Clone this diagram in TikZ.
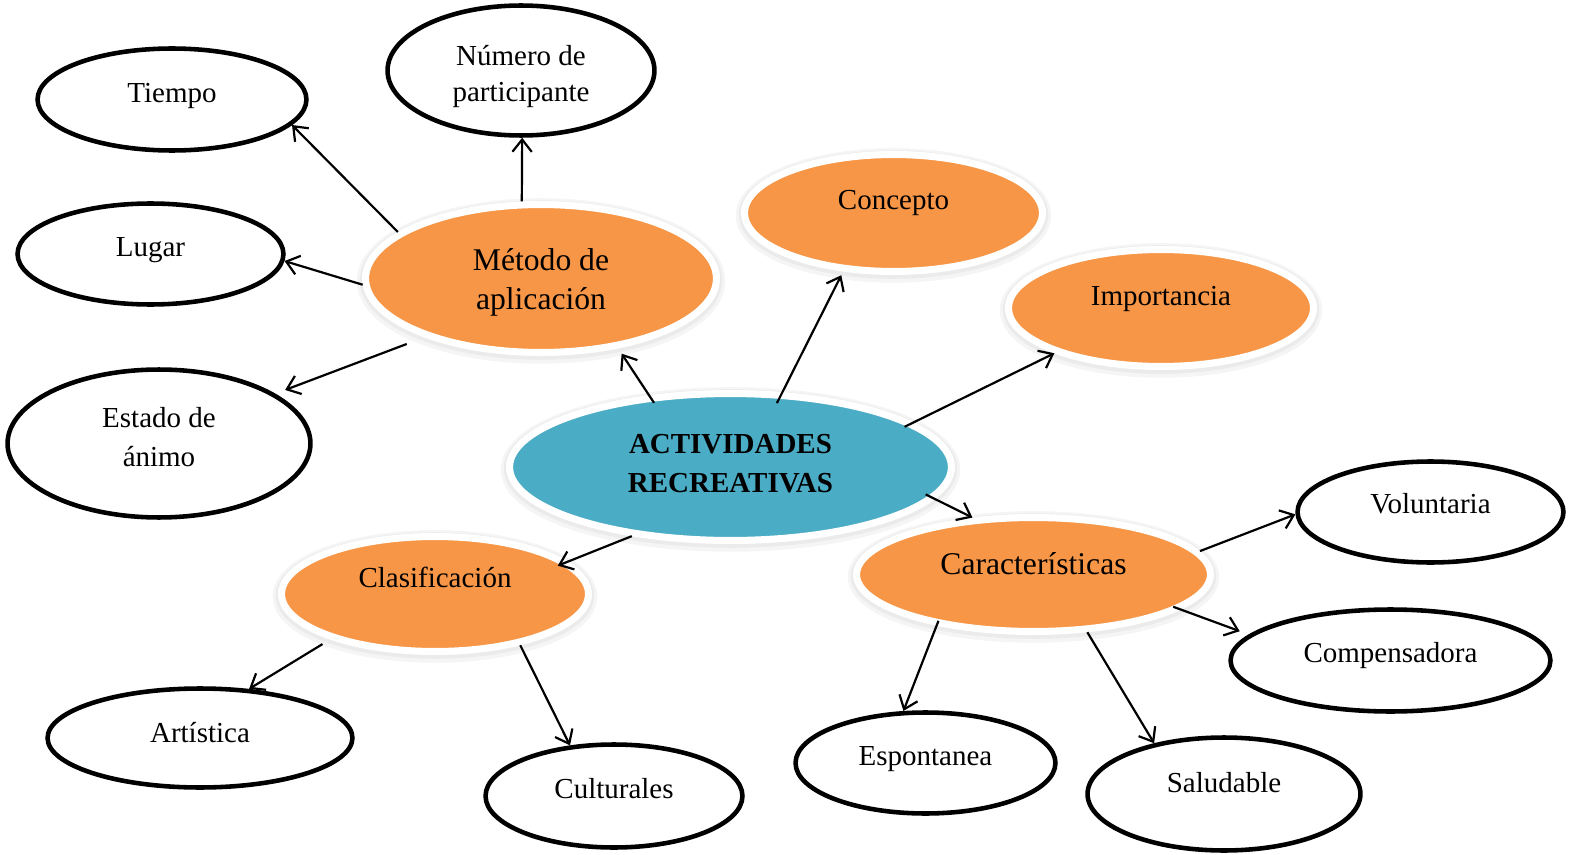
\documentclass[tikz,border=0pt]{standalone}
\usepackage{fontspec}
\setmainfont{Liberation Serif}
\usetikzlibrary{calc,shapes.geometric,arrows.meta}
\definecolor{naranja}{HTML}{F79646}
\definecolor{azul}{HTML}{4BACC6}

\begin{document}
\begin{tikzpicture}[x=0.02cm, y=-0.02cm,
  % white ellipse with a heavy black outline (radii of the outline path)
  wb/.style 2 args={ellipse, draw=black, line width=2.6pt, fill=white, inner sep=0pt,
    minimum width={#1*0.04cm}, minimum height={#2*0.04cm}},
  % filled ellipse with a white rim and a soft grey halo
  glow/.style 2 args={ellipse, draw=white, line width=4pt, inner sep=0pt,
    minimum width={#1*0.04cm}, minimum height={#2*0.04cm},
    preaction={draw=black!4, line width=10pt, transform canvas={yshift=-1.4pt}},
    preaction={draw=black!8, line width=6.5pt, transform canvas={yshift=-0.9pt}}},
  ob/.style 2 args={glow={#1}{#2}, fill=naranja},
  cb/.style 2 args={glow={#1}{#2}, fill=azul},
  % text styles
  lbl/.style={align=center, inner sep=0pt, font=\fontsize{16.5pt}{20pt}\selectfont},
  lone/.style={lbl, text height=11.5pt, text depth=3.3pt},
  tx/.style 2 args={label={[lone, yshift=#2*0.02cm]center:#1}},
  tm/.style 2 args={label={[lbl, yshift=#2*0.02cm]center:{#1}}},
  arr/.style={-{Straight Barb[length=7pt,width=11pt]}, line width=1.25pt}
]
\useasboundingbox (0,0) rectangle (1570,855);

% main concept and first-level topics
\node[ob={175.5}{74}, label={[lbl, font=\fontsize{18pt}{22.2pt}\selectfont, yshift=-3.7*0.02cm]center:{Método de\\aplicación}}] (met) at (541,278.5) {};
\node[ob={149}{58.5}, tx={Concepto}{11}] (con) at (893.5,213) {};
\node[ob={152.5}{58.5}, tx={Importancia}{10}] (imp) at (1161,308) {};
\node[ob={177}{57}, label={[lone, font=\fontsize{18pt}{22pt}\selectfont, text height=12.6pt, text depth=3.6pt, yshift=7.5*0.02cm]center:Características}] (car) at (1033.5,574.5) {};
\node[ob={153.5}{57.5}, tx={Clasificación}{14}] (cla) at (435,594) {};
\node[cb={221}{73.5}, label={[lbl, font=\bfseries\fontsize{16.5pt}{22.2pt}\selectfont, yshift=3*0.02cm]center:{ACTIVIDADES\\RECREATIVAS}}] (cen) at (730.5,467) {};

% second-level items
\node[wb={134.5}{51}, tx={Tiempo}{4.5}] (tie) at (172,99.5) {};
\node[wb={133.5}{65}, tm={Número de\\participante}{-6}] (num) at (521,70.5) {};
\node[wb={133}{50.5}, tx={Lugar}{5}] (lug) at (150.5,254) {};
\node[wb={151.5}{74}, tm={Estado de\\[2.2pt]ánimo}{6}] (est) at (159,443.5) {};
\node[wb={133}{50.5}, tx={Voluntaria}{6}] (vol) at (1430.5,512) {};
\node[wb={160}{51}, tx={Compensadora}{5.5}] (com) at (1390.5,660.5) {};
\node[wb={152.5}{49.5}, tx={Artística}{3}] (art) at (200,738) {};
\node[wb={128.5}{51.5}, tx={Culturales}{5}] (cul) at (614,796) {};
\node[wb={130}{50.5}, tx={Espontanea}{4.5}] (esp) at (925.5,763) {};
\node[wb={136.5}{56.5}, tx={Saludable}{9}] (sal) at (1224,794) {};

% connectors
\draw[arr] (met.162) -- (tie.-12);
\draw[arr] (met.104) -- (num.-89.5);
\draw[arr] (met.182) -- (lug.-3);
\draw[arr] ($(met.center)!1.13!(met.206)$) -- ($(est.center)!1.08!(est.23)$);
\draw[arr] ($(cen.center)!0.9!(cen.140)$) -- ($(met.center)!1.07!(met.-43)$);
\draw[arr] ($(cen.center)!0.855!(cen.54.6)$) -- ($(con.center)!1.06!(con.-130.8)$);
\draw[arr] ($(cen.center)!0.935!(cen.13.4)$) -- (imp.-157);
\draw[arr] ($(cen.center)!0.94!(cen.-8.9)$) -- (car.137.4);
\draw[arr] (cen.215.6) -- ($(cla.center)!0.91!(cla.13.4)$);
\draw[arr] ($(cla.center)!1.09!(cla.204)$) -- (art.45.6);
\draw[arr] (cla.-31) -- (cul.131);
\draw[arr] (car.8.3) -- (vol.181.2);
\draw[arr] ($(car.center)!0.94!(car.-13.2)$) -- ($(com.center)!1.08!(com.169.4)$);
\draw[arr] ($(car.center)!0.93!(car.206)$) -- (esp.113.5);
\draw[arr] (car.-47.6) -- (sal.144.4);
\end{tikzpicture}
\end{document}
